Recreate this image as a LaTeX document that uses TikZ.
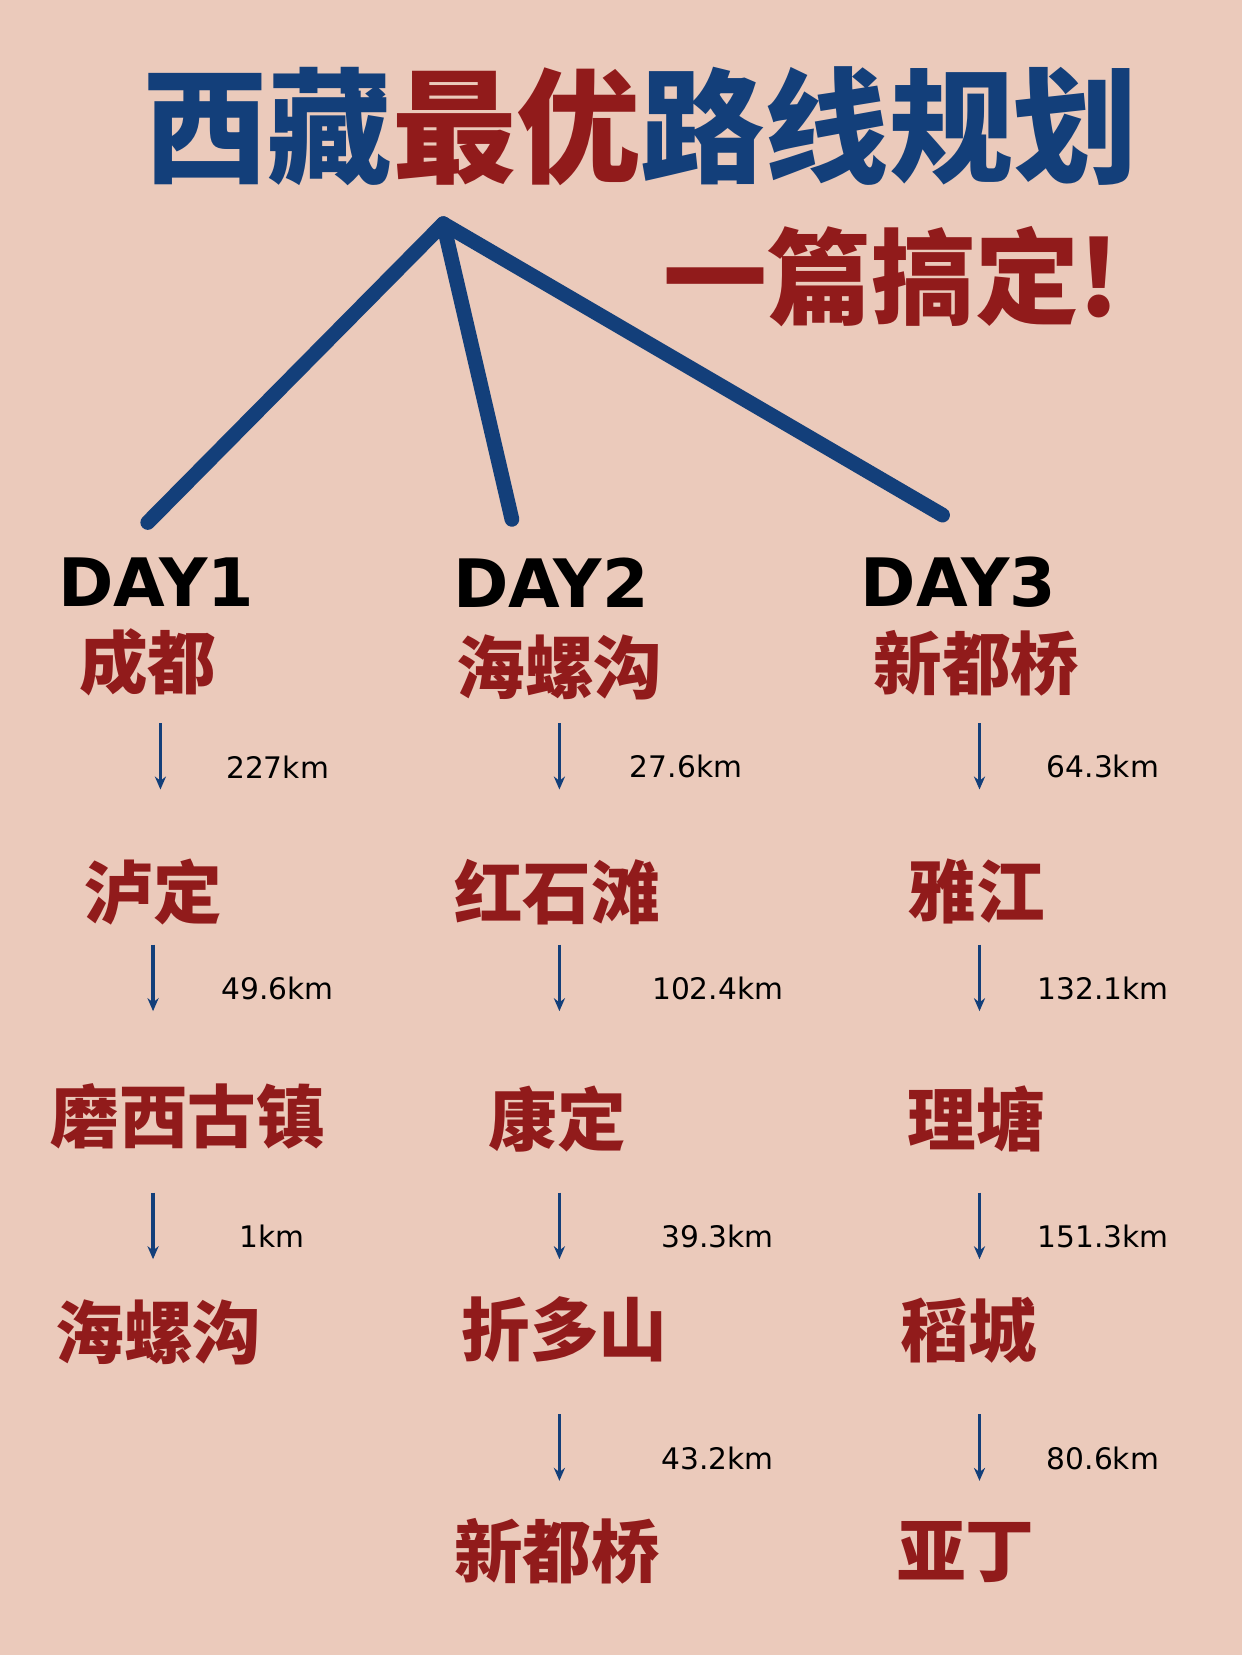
\documentclass[tikz,border=0pt]{standalone}
\usepackage{fontspec}
\newfontfamily\cjk{Noto Sans CJK SC}[BoldFont={Noto Sans CJK SC Black}]
\setsansfont{DejaVu Sans}
\usetikzlibrary{arrows.meta,positioning}
\definecolor{bgpink}{HTML}{EBCABB}
\definecolor{tibblue}{HTML}{133F7A}
\definecolor{tibred}{HTML}{911B1B}

\tikzset{
    place/.style={text=tibred, font=\cjk\bfseries\fontsize{37}{40}\selectfont, inner sep=0pt},
    daylbl/.style={font=\sffamily\bfseries\fontsize{36}{40}\selectfont, inner sep=0pt},
    dist/.style={font=\sffamily\fontsize{16}{19}\selectfont, inner sep=0pt},
    leg/.style={-{Stealth[length=7pt,width=6pt]}, draw=tibblue, line width=2pt},
    branch/.style={draw=tibblue, line width=0.28cm, line cap=round}
}

\begin{document}
\begin{tikzpicture}[x=0.02cm, y=-0.02cm]
    \fill[bgpink] (0,0) rectangle (1177,1568);
    \useasboundingbox (0,0) rectangle (1177,1568);

    % title
    \node[inner sep=0pt, font=\cjk\bfseries\fontsize{67}{72}\selectfont] (title) at (607,120)
        {\textcolor{tibblue}{西藏}\textcolor{tibred}{最优}\textcolor{tibblue}{路线规划}};
    \node[inner sep=0pt, text=tibred, font=\cjk\bfseries\fontsize{56}{60}\selectfont] (sub) at (845,262) {一篇搞定!};

    % branches
    \coordinate (apex) at (420,212);
    \coordinate (b1) at (140,495);
    \coordinate (b2) at (485,492);
    \coordinate (b3) at (893,488);
    \foreach \b in {b1,b2,b3}
        \draw[branch] (apex) -- (\b);

    \node[daylbl] (day1) at (148,552) {DAY1};
    \node[daylbl] (day2) at (522,552) {DAY2};
    \node[daylbl] (day3) at (908,552) {DAY3};

    % day 1
    \node[place] (chengdu) at (140,628) {成都};
    \node[place] (luding) at (145,845) {泸定};
    \node[place] (moxi) at (178,1058) {磨西古镇};
    \node[place] (hailuo) at (150,1262) {海螺沟};

    % day 2
    \node[place] (hailuoB) at (530,632) {海螺沟};
    \node[place] (hongshi) at (528,845) {红石滩};
    \node[place] (kangding) at (528,1060) {康定};
    \node[place] (zheduo) at (535,1260) {折多山};
    \node[place] (xinduA) at (528,1470) {新都桥};

    % day 3
    \node[place] (xinduB) at (925,628) {新都桥};
    \node[place] (yajiang) at (925,845) {雅江};
    \node[place] (litang) at (925,1060) {理塘};
    \node[place] (daocheng) at (918,1260) {稻城};
    \node[place] (yading) at (915,1470) {亚丁};

    % legs: x, top, bottom, label x, label
    \foreach \x/\ya/\yb/\lx/\d in {
        152/685/748/263/227km, 145/895/958/263/49.6km, 145/1130/1193/258/1km,
        530/685/748/650/27.6km, 530/895/958/680/102.4km, 530/1130/1193/680/39.3km, 530/1340/1403/680/43.2km,
        928/685/748/1045/64.3km, 928/895/958/1045/132.1km, 928/1130/1193/1045/151.3km, 928/1340/1403/1045/80.6km}
    {
        \coordinate (s) at (\x,\ya);
        \coordinate (e) at (\x,\yb);
        \draw[leg] (s) -- (e);
        \node[dist] at (\lx,{(\ya+\yb)/2+10}) {\d};
    }
\end{tikzpicture}
\end{document}
